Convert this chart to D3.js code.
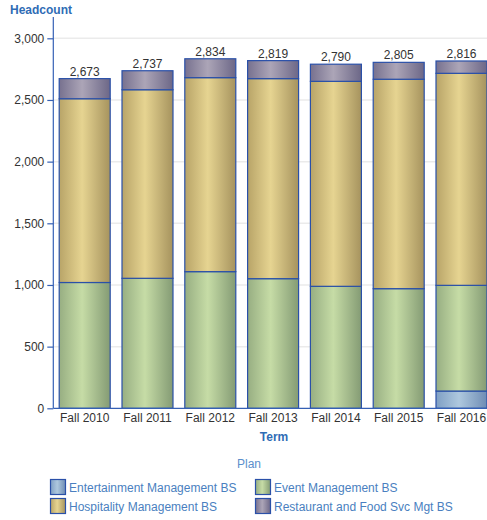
<!DOCTYPE html>
<html><head><meta charset="utf-8">
<script src="https://cdn.jsdelivr.net/npm/d3@7"></script>
<style>body{margin:0;background:#fff;} svg{display:block;font-family:"Liberation Sans",Arial,sans-serif;}</style>
</head><body>
<svg id="c" width="487" height="520"></svg>
<script>
const terms = ["Fall 2010","Fall 2011","Fall 2012","Fall 2013","Fall 2014","Fall 2015","Fall 2016"];
const seriesNames = ["Entertainment Management BS","Event Management BS","Hospitality Management BS","Restaurant and Food Svc Mgt BS"];
const entertainment = [0,0,0,0,0,0,140];
const eventMgmt = [1020,1054,1108,1051,989,970,857];
const hospitality = [1490,1529,1573,1622,1662,1698,1719];
const restaurant = [163,154,153,146,139,137,100];
const totals = [2673,2737,2834,2819,2790,2805,2816];
const yTicks = [0,500,1000,1500,2000,2500,3000];

const gradColors = [
  ["#7f9fc4","#aec8de","#6e8cb4"],
  ["#97ae82","#c6dca6","#849b74"],
  ["#b8a468","#e6d491","#a6935e"],
  ["#77718f","#aca5b7","#6c6787"]
];

const svg = d3.select("#c");
const defs = svg.append("defs");
gradColors.forEach((c,i)=>{
  const g = defs.append("linearGradient").attr("id","g"+i).attr("x1","0").attr("x2","1").attr("y1","0").attr("y2","0");
  g.append("stop").attr("offset","0%").attr("stop-color",c[0]);
  g.append("stop").attr("offset","45%").attr("stop-color",c[1]);
  g.append("stop").attr("offset","100%").attr("stop-color",c[2]);
});

const plotLeft = 53.3, plotBottom = 408.3, plotTop = 38.3;
const x = d3.scaleBand().domain(terms).range([plotLeft, plotLeft + 7*62.8]).paddingInner(0.188).paddingOuter(0.094);
const y = d3.scaleLinear().domain([0,3000]).range([plotBottom, plotTop]);

// gridlines
svg.append("g").selectAll("line").data(yTicks.slice(1)).join("line")
  .attr("x1", plotLeft).attr("x2", 487).attr("y1", d=>y(d)).attr("y2", d=>y(d))
  .attr("stroke","#ebebeb").attr("stroke-width",1.5);

const data = terms.map((t,i)=>({term:t, v:[entertainment[i],eventMgmt[i],hospitality[i],restaurant[i]]}));
const stack = d3.stack().keys([0,1,2,3]).value((d,k)=>d.v[k]);
const layers = stack(data);

layers.forEach((layer,k)=>{
  svg.append("g").selectAll("rect").data(layer.filter(d=>d[1]-d[0]>0)).join("rect")
    .attr("x", d=>x(d.data.term)).attr("width", x.bandwidth())
    .attr("y", d=>y(d[1])).attr("height", d=>y(d[0])-y(d[1]))
    .attr("fill","url(#g"+k+")").attr("stroke","#2a50a8").attr("stroke-width",1.2);
});

// value labels
svg.append("g").selectAll("text").data(terms).join("text")
  .attr("x", d=>x(d)+x.bandwidth()/2).attr("y",(d,i)=>y(totals[i])-3)
  .attr("text-anchor","middle").attr("font-size",12).attr("fill","#333")
  .text((d,i)=>d3.format(",")(totals[i]));

// axes
const yAxis = svg.append("g").attr("transform",`translate(${plotLeft},0)`)
  .call(d3.axisLeft(y).tickValues(yTicks).tickFormat(d3.format(",")).tickSize(6).tickSizeOuter(0));
yAxis.select(".domain").attr("stroke","#3560b5").attr("stroke-width",1.2).attr("d",`M0,17V${plotBottom}`);
yAxis.selectAll(".tick line").attr("stroke","#3560b5").attr("stroke-width",1.2);
yAxis.selectAll(".tick text").attr("font-size",12).attr("fill","#333").attr("font-family","Liberation Sans, Arial, sans-serif").attr("x",-9);

const xAxis = svg.append("g").attr("transform",`translate(0,${plotBottom})`)
  .call(d3.axisBottom(x).tickSize(0).tickSizeOuter(0));
xAxis.select(".domain").attr("stroke","#3560b5").attr("stroke-width",1.2).attr("d",`M${plotLeft},0H487`);
xAxis.selectAll(".tick text").attr("font-size",12).attr("fill","#333").attr("font-family","Liberation Sans, Arial, sans-serif").attr("dy","0").attr("y",14);

// titles
svg.append("text").attr("x",10).attr("y",14).attr("font-size",12).attr("font-weight","bold").attr("fill","#2f6cb5").text("Headcount");
svg.append("text").attr("x",274).attr("y",441).attr("text-anchor","middle").attr("font-size",12).attr("font-weight","bold").attr("fill","#2f6cb5").text("Term");
svg.append("text").attr("x",249).attr("y",468).attr("text-anchor","middle").attr("font-size",12).attr("fill","#5b8fcc").text("Plan");

// legend
const legPos = [[50,479],[255,479],[50,498],[255,498]];
seriesNames.forEach((n,i)=>{
  const [lx,ly] = legPos[i];
  svg.append("rect").attr("x",lx+0.5).attr("y",ly+0.5).attr("width",15).attr("height",15)
    .attr("fill","url(#g"+i+")").attr("stroke","#2a50a8").attr("stroke-width",1.2);
  svg.append("text").attr("x",lx+19).attr("y",ly+12.5).attr("font-size",12).attr("fill","#4a7fc0").text(n);
});
</script>
</body></html>
